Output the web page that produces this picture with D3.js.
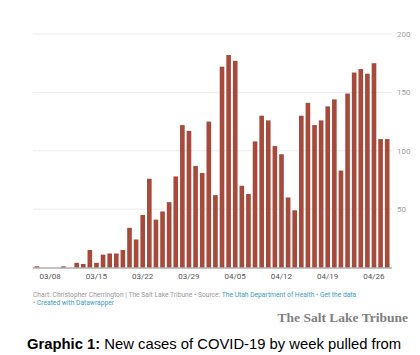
<!DOCTYPE html>
<html><head><meta charset="utf-8">
<script src="https://cdn.jsdelivr.net/npm/d3@7"></script>
<style>
html,body{margin:0;padding:0;background:#fff;}
svg{display:block;}
</style></head>
<body>
<svg id="c" width="420" height="355"></svg>
<script>
const dates = ["03/06","03/07","03/08","03/09","03/10","03/11","03/12","03/13","03/14","03/15",
"03/16","03/17","03/18","03/19","03/20","03/21","03/22","03/23","03/24","03/25",
"03/26","03/27","03/28","03/29","03/30","03/31",
"04/01","04/02","04/03","04/04","04/05","04/06","04/07","04/08","04/09","04/10",
"04/11","04/12","04/13","04/14","04/15","04/16","04/17","04/18","04/19","04/20",
"04/21","04/22","04/23","04/24","04/25","04/26","04/27","04/28"];
const cases = [1,0,0,0,1,0,4,3,15,4,
11,12,12,15,34,24,45,76,41,48,
56,78,122,117,87,81,
125,62,172,182,177,70,63,108,130,126,
104,97,60,49,130,141,122,126,138,144,
83,149,167,170,166,175,110,110];
const xTicks = ["03/08","03/15","03/22","03/29","04/05","04/12","04/19","04/26"];
const yTicks = [50,100,150,200];

const svg = d3.select("#c");
const x = d3.scaleBand().domain(dates).range([32.7, 391.5]).padding(0.3);
const y = d3.scaleLinear().domain([0,200]).range([267.5, 34]);

// grid
svg.append("g").selectAll("line").data(yTicks).join("line")
  .attr("x1",33).attr("x2",392).attr("y1",d=>y(d)).attr("y2",d=>y(d))
  .attr("stroke","#ececec").attr("stroke-width",1);
svg.append("g").selectAll("text").data(yTicks).join("text")
  .attr("x",397).attr("y",d=>y(d)+3)
  .attr("font-family","Roboto").attr("font-size",8).attr("fill","#a0a0a0")
  .text(d=>d);

// bars
svg.append("g").selectAll("rect").data(dates).join("rect")
  .attr("x",d=>x(d)).attr("width",x.bandwidth())
  .attr("y",(d,i)=>y(cases[i])).attr("height",(d,i)=>y(0)-y(cases[i]))
  .attr("fill","#a64b3b");

// baseline
svg.append("line").attr("x1",33).attr("x2",392).attr("y1",y(0)+0.5).attr("y2",y(0)+0.5)
  .attr("stroke","#888").attr("stroke-width",1);

// x labels
svg.append("g").selectAll("text").data(xTicks).join("text")
  .attr("x",d=>x(d)+x.bandwidth()/2).attr("y",279)
  .attr("text-anchor","middle")
  .attr("font-family","Roboto").attr("font-size",8).attr("fill","#555")
  .text(d=>d);

// footer
const f1 = svg.append("text").attr("x",33).attr("y",296.5)
  .attr("font-family","Roboto").attr("font-size",6.7).attr("fill","#999");
f1.append("tspan").text("Chart: Christopher Cherrington | The Salt Lake Tribune • Source: ");
f1.append("tspan").attr("fill","#3a9cc0").text("The Utah Department of Health");
f1.append("tspan").text(" • ");
f1.append("tspan").attr("fill","#3a9cc0").text("Get the data");
const f2 = svg.append("text").attr("x",33).attr("y",304.5)
  .attr("font-family","Roboto").attr("font-size",6.7).attr("fill","#999");
f2.append("tspan").text("• ");
f2.append("tspan").attr("fill","#3a9cc0").text("Created with Datawrapper");

svg.append("text").attr("x",408).attr("y",322).attr("text-anchor","end")
  .attr("font-family","Liberation Serif, DejaVu Serif, serif").attr("font-size",13.5)
  .attr("font-weight","bold").attr("fill","#808080")
  .text("The Salt Lake Tribune");

const cap = svg.append("text").attr("x",27).attr("y",349)
  .attr("font-family","Liberation Sans, Arial, sans-serif").attr("font-size",14.8).attr("fill","#000");
cap.append("tspan").attr("font-weight","bold").text("Graphic 1:");
cap.append("tspan").text(" New cases of COVID-19 by week pulled from");
</script>
</body></html>
